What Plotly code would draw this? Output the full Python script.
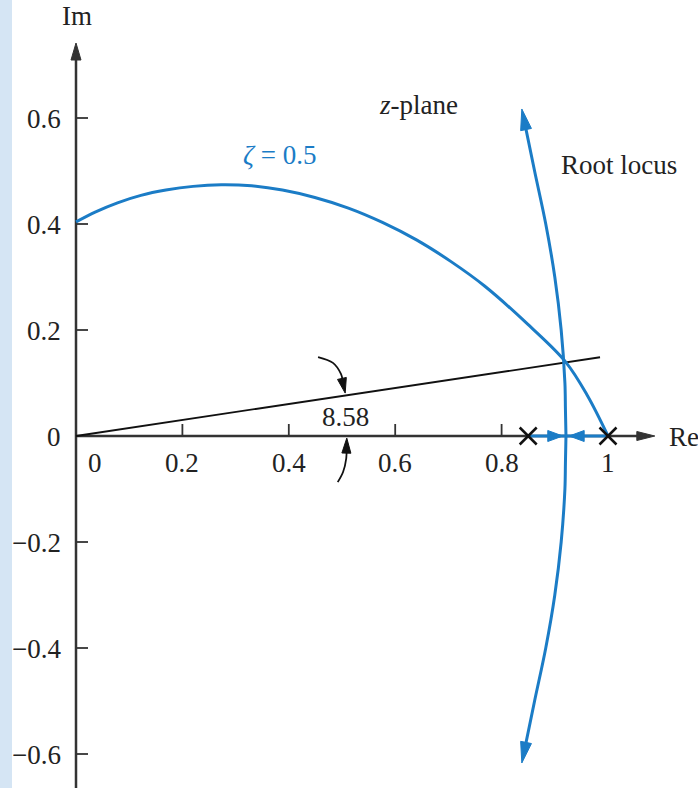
import math
import plotly.graph_objects as go

# ---------------- data ----------------
# constant-damping curve zeta = 0.5 (upper half)
zeta_x = [0.000, 0.037, 0.078, 0.122, 0.169, 0.220, 0.273, 0.330, 0.388, 0.449, 0.512,
          0.576, 0.640, 0.705, 0.768, 0.850, 0.921, 0.962, 1.000]
zeta_y = [0.404, 0.423, 0.440, 0.454, 0.464, 0.471, 0.474, 0.472, 0.464, 0.450, 0.430,
          0.403, 0.370, 0.329, 0.283, 0.210, 0.139, 0.075, 0.000]

# root-locus branch leaving the real axis (upper half, lower is its mirror)
locus_x = [0.921, 0.920, 0.919, 0.912, 0.900, 0.883, 0.862, 0.838]
locus_y = [0.000, 0.050, 0.100, 0.200, 0.300, 0.400, 0.500, 0.617]

# open-loop poles and real-axis locus segment
poles_x = [0.85, 1.0]
real_arrow_tips = [0.915, 0.927]

# line at the angle of the closed-loop pole
angle_line_x = [0.0, 0.985]
angle_line_y = [0.0, 0.1486]
angle_label = "8.58"

# curved pointer arrows marking the angle
ptr_upper_x = [0.455, 0.483, 0.498, 0.506]
ptr_upper_y = [0.149, 0.138, 0.117, 0.081]
ptr_lower_x = [0.492, 0.502, 0.508, 0.509]
ptr_lower_y = [-0.087, -0.068, -0.042, -0.004]

# axes
x_tick_vals = [0.2, 0.4, 0.6, 0.8]
x_label_vals = [0.0, 0.2, 0.4, 0.6, 0.8, 1.0]
x_label_text = ["0", "0.2", "0.4", "0.6", "0.8", "1"]
y_tick_vals = [0.6, 0.4, 0.2, -0.2, -0.4, -0.6]
y_label_vals = [0.6, 0.4, 0.2, 0.0, -0.2, -0.4, -0.6]
y_label_text = ["0.6", "0.4", "0.2", "0", "\u22120.2", "\u22120.4", "\u22120.6"]
re_axis_end = 1.088
im_axis_end = 0.7415

# ---------------- layout / style ----------------
W, H = 698, 788
XR = [-76 / 532, 622 / 532]
YR = [-352 / 530, 436 / 530]
SX = W / (XR[1] - XR[0])
SY = H / (YR[1] - YR[0])

BLUE = "#1b7cc6"
AXIS = "#333333"
TXT = "#222222"
FONT = "Liberation Serif, Times New Roman, serif"
FS = 27

fig = go.Figure()


def unit(tip, prev):
    dx = (tip[0] - prev[0]) * SX
    dy = (tip[1] - prev[1]) * SY
    n = math.hypot(dx, dy)
    return dx / n, dy / n


def back_off(tip, prev, dist):
    ux, uy = unit(tip, prev)
    return tip[0] - dist * ux / SX, tip[1] - dist * uy / SY


def head(tip, prev, L, Wd, color):
    ux, uy = unit(tip, prev)
    tx, ty = tip[0] * SX, tip[1] * SY
    bx, by = tx - L * ux, ty - L * uy
    c1 = (bx - Wd * uy, by + Wd * ux)
    c2 = (bx + Wd * uy, by - Wd * ux)
    path = (f"M {tip[0]},{tip[1]} L {c1[0] / SX},{c1[1] / SY} "
            f"L {c2[0] / SX},{c2[1] / SY} Z")
    fig.add_shape(type="path", path=path, xref="x", yref="y",
                  fillcolor=color, line=dict(color=color, width=1), layer="above")


def arrow_line(xs, ys, color, width, L, Wd, shape="spline"):
    tip = (xs[-1], ys[-1])
    prev = (xs[-2], ys[-2])
    end = back_off(tip, prev, L * 0.6)
    fig.add_trace(go.Scatter(x=list(xs[:-1]) + [end[0]], y=list(ys[:-1]) + [end[1]],
                             mode="lines", line=dict(color=color, width=width, shape=shape),
                             hoverinfo="skip"))
    head(tip, prev, L, Wd, color)


# light blue strip at left edge
fig.add_shape(type="rect", xref="paper", yref="paper", x0=0, x1=12 / W, y0=0, y1=1,
              fillcolor="#d5e5f4", line=dict(width=0), layer="below")

# axes lines
fig.add_shape(type="line", xref="x", yref="y", x0=0, y0=0, x1=re_axis_end - 10 / SX, y1=0,
              line=dict(color=AXIS, width=2.5), layer="below")
fig.add_shape(type="line", xref="x", yref="y", x0=0, y0=YR[0], x1=0, y1=im_axis_end - 10 / SY,
              line=dict(color=AXIS, width=2.5), layer="below")
head((re_axis_end, 0), (0, 0), 18, 4.5, AXIS)
head((0, im_axis_end), (0, 0), 17, 5, AXIS)

# ticks
for v in x_tick_vals:
    fig.add_shape(type="line", xref="x", yref="y", x0=v, x1=v, y0=0, y1=12 / SY,
                  line=dict(color=AXIS, width=1.8), layer="below")
for v in y_tick_vals:
    fig.add_shape(type="line", xref="x", yref="y", x0=0, x1=12 / SX, y0=v, y1=v,
                  line=dict(color=AXIS, width=1.8), layer="below")

# tick labels
for v, t in zip(x_label_vals, x_label_text):
    fig.add_annotation(x=v, y=0, xref="x", yref="y", text=t, showarrow=False,
                       xanchor="center", yanchor="middle", yshift=-27,
                       xshift=19 if v == 0 else 0,
                       font=dict(family=FONT, size=FS, color=TXT))
for v, t in zip(y_label_vals, y_label_text):
    fig.add_annotation(x=0, y=v, xref="x", yref="y", text=t, showarrow=False,
                       xanchor="right", yanchor="middle", xshift=-13, yshift=-1,
                       font=dict(family=FONT, size=FS, color=TXT))

# axis names
fig.add_annotation(x=0, y=im_axis_end, xref="x", yref="y", text="Im", showarrow=False,
                   xanchor="center", yanchor="middle", xshift=1, yshift=27,
                   font=dict(family=FONT, size=FS, color=TXT))
fig.add_annotation(x=re_axis_end, y=0, xref="x", yref="y", text="Re", showarrow=False,
                   xanchor="left", yanchor="middle", xshift=12, yshift=-1,
                   font=dict(family=FONT, size=FS, color=TXT))

# angle line
fig.add_trace(go.Scatter(x=angle_line_x, y=angle_line_y, mode="lines",
                         line=dict(color="#111111", width=1.8), hoverinfo="skip"))

# pointer arrows
arrow_line(ptr_upper_x, ptr_upper_y, "#111111", 1.8, 15, 4.5)
arrow_line(ptr_lower_x, ptr_lower_y, "#111111", 1.8, 15, 4.5)

# zeta curve
fig.add_trace(go.Scatter(x=zeta_x, y=zeta_y, mode="lines",
                         line=dict(color=BLUE, width=3, shape="spline", smoothing=1.0),
                         hoverinfo="skip"))

# root locus branches
arrow_line(locus_x, locus_y, BLUE, 3, 21, 5.5)
arrow_line(locus_x, [-v for v in locus_y], BLUE, 3, 21, 5.5)

# real-axis locus segment
fig.add_trace(go.Scatter(x=[poles_x[0], poles_x[1]], y=[0, 0], mode="lines",
                         line=dict(color=BLUE, width=3), hoverinfo="skip"))
head((real_arrow_tips[0], 0), (poles_x[0], 0), 15, 5.5, BLUE)
head((real_arrow_tips[1], 0), (poles_x[1], 0), 15, 5.5, BLUE)

# poles
fig.add_trace(go.Scatter(x=poles_x, y=[0] * len(poles_x), mode="markers",
                         marker=dict(symbol="x-thin", size=17, line=dict(width=2.5, color="#111111")),
                         hoverinfo="skip"))

# text labels
fig.add_annotation(x=0.643, y=0.6245, xref="x", yref="y", text="<i>z</i>-plane", showarrow=False,
                   font=dict(family=FONT, size=FS, color=TXT))
fig.add_annotation(x=1.0207, y=0.511, xref="x", yref="y", text="Root locus", showarrow=False,
                   font=dict(family=FONT, size=FS, color=TXT))
fig.add_annotation(x=0.3816, y=0.530, xref="x", yref="y", text="<i>\u03b6</i> = 0.5", showarrow=False,
                   font=dict(family=FONT, size=FS, color=BLUE))
fig.add_annotation(x=0.506, y=0.0358, xref="x", yref="y", text=angle_label, showarrow=False,
                   font=dict(family=FONT, size=FS, color=TXT))

fig.update_layout(
    width=W, height=H, margin=dict(l=0, r=0, t=0, b=0),
    xaxis=dict(range=XR, visible=False, fixedrange=True),
    yaxis=dict(range=YR, visible=False, fixedrange=True),
    plot_bgcolor="white", paper_bgcolor="white", showlegend=False,
)

fig.write_html("out.html", config={"displayModeBar": False},
               post_script="document.body.style.margin='0';document.body.style.padding='0';"
                           "document.body.style.overflow='hidden';")
